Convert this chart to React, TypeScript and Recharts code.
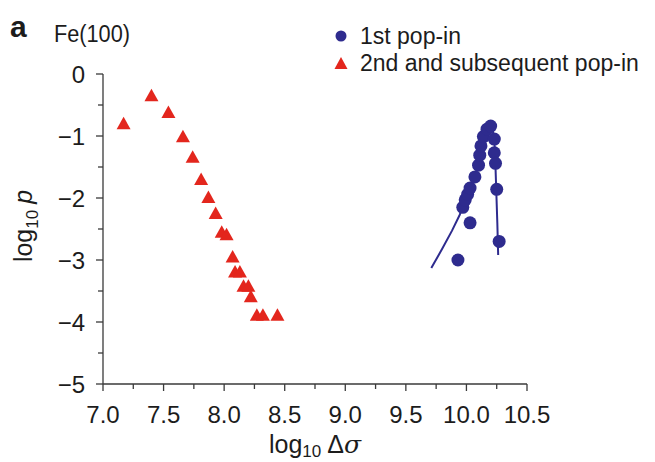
import React from 'react';
import { ScatterChart, Scatter, XAxis, YAxis, Legend, Label } from 'recharts';

const FONT = '"Liberation Sans", Arial, Helvetica, sans-serif';
const BLUE = '#2e2b8e';
const RED = '#e3261d';
const TEXT = '#1c1c1c';
const AXIS = '#3a3a3a';

// Axis ticks
const xTicks = [7, 7.25, 7.5, 7.75, 8, 8.25, 8.5, 8.75, 9, 9.25, 9.5, 9.75, 10, 10.25, 10.5];
const xTickLabels = ['7.0', '7.5', '8.0', '8.5', '9.0', '9.5', '10.0', '10.5'];
const yTicks = [-5, -4.5, -4, -3.5, -3, -2.5, -2, -1.5, -1, -0.5, 0];
const yTickLabels = ['\u22125', '\u22124', '\u22123', '\u22122', '\u22121', '0'];

// 2nd and subsequent pop-in (red triangles)
const secondX = [7.17, 7.4, 7.54, 7.66, 7.74, 7.81, 7.87, 7.93, 7.98, 8.02, 8.07, 8.09, 8.13, 8.16, 8.2, 8.22, 8.27, 8.32, 8.44];
const secondY = [-0.81, -0.36, -0.63, -1.02, -1.35, -1.71, -2.0, -2.26, -2.56, -2.6, -2.96, -3.2, -3.2, -3.43, -3.43, -3.6, -3.9, -3.9, -3.9];

// 1st pop-in (blue circles)
const firstX = [9.93, 9.97, 9.99, 10.01, 10.03, 10.03, 10.07, 10.1, 10.11, 10.12, 10.14, 10.17, 10.2, 10.23, 10.23, 10.24, 10.25, 10.27];
const firstY = [-3.0, -2.15, -2.03, -1.94, -1.84, -2.4, -1.66, -1.47, -1.31, -1.16, -1.01, -0.89, -0.84, -1.05, -1.27, -1.44, -1.86, -2.7];

// fitted curve through 1st pop-in
const fitX = [9.71, 9.8, 9.88, 9.945, 10.0, 10.06, 10.1, 10.13, 10.16, 10.19, 10.215, 10.235, 10.245, 10.255, 10.262];
const fitY = [-3.13, -2.82, -2.53, -2.27, -2.0, -1.72, -1.45, -1.15, -0.97, -0.86, -0.85, -1.2, -1.8, -2.4, -2.92];

const zip = (xs: number[], ys: number[]) => xs.map((x, i) => ({ x, y: ys[i] }));
const secondData = zip(secondX, secondY);
const firstData = zip(firstX, firstY);
const fitData = zip(fitX, fitY);

const XTick = (props: any) => {
  const { x, y, payload } = props;
  const v = payload.value as number;
  const idx2 = (v - 7) * 2;
  const major = Math.abs(idx2 - Math.round(idx2)) < 1e-6;
  return (
    <g>
      <line x1={x} x2={x} y1={y} y2={y + (major ? 7 : 5)} stroke={AXIS} strokeWidth={1.3} />
      {major && (
        <text x={x} y={y + 38.5} textAnchor="middle" fontSize={24} fill={TEXT} fontFamily={FONT}>
          {xTickLabels[Math.round(idx2)]}
        </text>
      )}
    </g>
  );
};

const YTick = (props: any) => {
  const { x, y, payload } = props;
  const v = payload.value as number;
  const major = Math.abs(v - Math.round(v)) < 1e-6;
  return (
    <g>
      <line x1={x} x2={x - (major ? 7 : 5)} y1={y} y2={y} stroke={AXIS} strokeWidth={1.3} />
      {major && (
        <text x={x - 18} y={y + 8.5} textAnchor="end" fontSize={24} fill={TEXT} fontFamily={FONT}>
          {yTickLabels[Math.round(v) + 5]}
        </text>
      )}
    </g>
  );
};

const XLabelContent = (props: any) => {
  const vb = props.viewBox || {};
  const cx = vb.x + vb.width / 2;
  const by = vb.y + 69;
  return (
    <text x={cx} y={by} textAnchor="middle" fontSize={25} fill={TEXT} fontFamily={FONT}>
      <tspan>log</tspan>
      <tspan fontSize={17} dy={4}>10</tspan>
      <tspan dy={-4} dx={6}>Δ</tspan>
      <tspan fontStyle="italic" fontFamily='"DejaVu Serif", "Liberation Serif", serif'>σ</tspan>
    </text>
  );
};

const YLabelContent = (props: any) => {
  const vb = props.viewBox || {};
  const bx = 32;
  const cy = vb.y + vb.height / 2 - 3;
  return (
    <text
      x={bx}
      y={cy}
      transform={`rotate(-90, ${bx}, ${cy})`}
      textAnchor="middle"
      fontSize={25}
      fill={TEXT}
      fontFamily={FONT}
    >
      <tspan>log</tspan>
      <tspan fontSize={17} dy={6}>10</tspan>
      <tspan dy={-6} dx={6} fontStyle="italic">p</tspan>
    </text>
  );
};

const Triangle = (props: any) => {
  const { cx, cy } = props;
  if (cx == null || cy == null) return <g />;
  return <polygon points={`${cx},${cy - 7.5} ${cx - 7},${cy + 5} ${cx + 7},${cy + 5}`} fill={RED} />;
};

const Dot = (props: any) => {
  const { cx, cy } = props;
  if (cx == null || cy == null) return <g />;
  return <circle cx={cx} cy={cy} r={6.5} fill={BLUE} />;
};

const NoShape = () => <g />;

const LegendContent = () => (
  <svg width={655} height={100} style={{ display: 'block' }}>
    <text x={10} y={37} fontSize={30} fontWeight="bold" fill={TEXT} fontFamily={FONT}>a</text>
    <text x={54} y={42} fontSize={23.5} fill={TEXT} fontFamily={FONT} textLength={76} lengthAdjust="spacingAndGlyphs">Fe(100)</text>
    <circle cx={341} cy={36} r={5.5} fill={BLUE} />
    <text x={360} y={44} fontSize={23} fill={TEXT} fontFamily={FONT}>1st pop-in</text>
    <polygon points="341,57 334.5,69 347.5,69" fill={RED} />
    <text x={360} y={71} fontSize={23} fill={TEXT} fontFamily={FONT}>2nd and subsequent pop-in</text>
  </svg>
);

export default function App() {
  return (
    <div style={{ position: 'absolute', left: 0, top: 0 }}>
      <ScatterChart width={655} height={462} margin={{ top: 74, right: 128, bottom: 0, left: 0 }}>
        <XAxis
          type="number"
          dataKey="x"
          domain={[7, 10.5]}
          ticks={xTicks}
          interval={0}
          tickSize={0}
          tickMargin={0}
          tickLine={false}
          tick={<XTick />}
          axisLine={{ stroke: AXIS, strokeWidth: 1.3 }}
          height={78}
          allowDataOverflow
        >
          <Label content={XLabelContent} />
        </XAxis>
        <YAxis
          type="number"
          dataKey="y"
          domain={[-5, 0]}
          ticks={yTicks}
          interval={0}
          tickSize={0}
          tickMargin={0}
          tickLine={false}
          tick={<YTick />}
          axisLine={{ stroke: AXIS, strokeWidth: 1.3 }}
          width={103}
          allowDataOverflow
        >
          <Label content={YLabelContent} />
        </YAxis>
        <Legend
          layout="horizontal"
          verticalAlign="middle"
          align="center"
          content={LegendContent}
          wrapperStyle={{ position: 'absolute', left: 0, top: 0, width: 655, height: 100 }}
        />
        <Scatter
          name="fit"
          data={fitData}
          line={{ stroke: BLUE, strokeWidth: 2 }}
          lineType="joint"
          shape={NoShape}
          legendType="none"
          isAnimationActive={false}
        />
        <Scatter name="2nd and subsequent pop-in" data={secondData} shape={Triangle} fill={RED} isAnimationActive={false} />
        <Scatter name="1st pop-in" data={firstData} shape={Dot} fill={BLUE} isAnimationActive={false} />
      </ScatterChart>
    </div>
  );
}
